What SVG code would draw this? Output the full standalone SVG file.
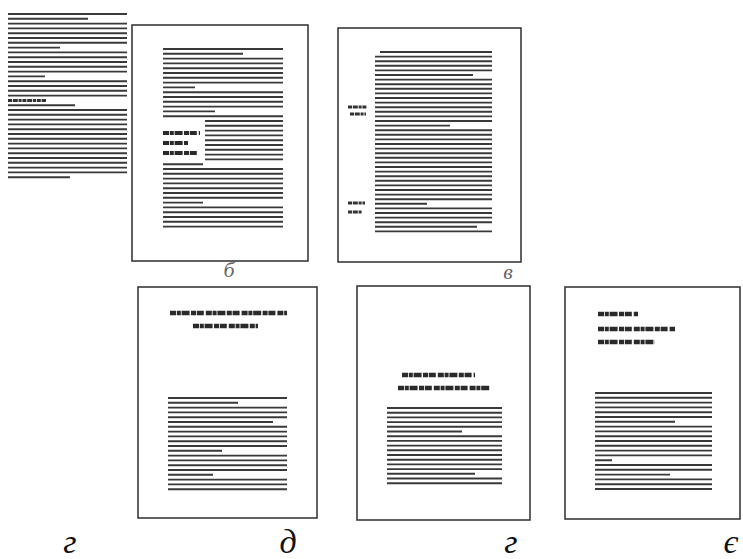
<svg xmlns="http://www.w3.org/2000/svg" width="743" height="559" viewBox="0 0 743 559">
<style>
.frame{fill:#fff;stroke:#3a3a3a;stroke-width:1.6}
.txt{fill:none;stroke:#1e1e1e;stroke-width:1.9;stroke-opacity:0.88}
.head{fill:none;stroke:#2a2a2a;stroke-width:4.5;stroke-dasharray:6 0.8 4 0.8 8 1.4 5 0.8 7 2}
.note{fill:none;stroke:#333;stroke-width:3;stroke-dasharray:4 0.8 5 0.8 3 0.8}
.lab{font-family:"Liberation Serif",serif;font-style:italic;text-anchor:middle}
</style>
<rect width="743" height="559" fill="#fff"/>

<g id="page-a">
<path class="txt" d="M8 14H127M8 18.8H88M8 23.6H127M8 28.4H127M8 33.2H127M8 38H127M8 42.8H127M8 47.6H60M8 52.4H127M8 57.2H127M8 62H127M8 66.8H127M8 71.6H127M8 76.4H45M8 81.2H127M8 86H127M8 90.8H127M8 95.6H127M8 105.2H75M8 110H127M8 114.8H127M8 119.6H127M8 124.4H127M8 129.2H127M8 134H127M8 138.8H127M8 143.6H127M8 148.4H127M8 153.2H127M8 158H127M8 162.8H127M8 167.6H127M8 172.4H127M8 177.2H70"/>
<path class="note" d="M8 100.4H46"/>
</g>

<g id="page-b">
<rect class="frame" x="132" y="25" width="176" height="236"/>
<path class="txt" d="M163 49H283M163 53.8H243M163 58.6H283M163 63.4H283M163 68.2H283M163 73H283M163 77.8H283M163 82.6H283M163 87.4H195M163 92.2H283M163 97H283M163 101.8H283M163 106.6H283M163 111.4H215M163 116.2H283M205 121H283M205 125.8H283M205 130.6H283M205 135.4H283M205 140.2H283M205 145H283M205 149.8H283M205 154.6H283M205 159.4H283M163 164.2H203M163 169H283M163 173.8H283M163 178.6H283M163 183.4H283M163 188.2H283M163 193H283M163 197.8H283M163 202.6H203M163 207.4H283M163 212.2H283M163 217H283M163 221.8H283M163 226.6H283"/>
<path class="head" style="stroke-width:4" d="M163 133H200M163 143H188M163 153H198"/>
<text class="lab" x="229" y="277" font-size="22" fill="#666">б</text>
</g>

<g id="page-c">
<rect class="frame" x="338" y="28" width="183" height="234"/>
<path class="txt" d="M380 52H492M375 56.6H492M375 61.2H492M375 65.8H492M375 70.4H492M375 75H473M375 79.6H492M375 84.2H492M375 88.8H492M375 93.4H492M375 98H492M375 102.6H492M375 107.2H492M375 111.8H492M375 116.4H492M375 121H492M375 125.6H450M375 130.2H492M375 134.8H492M375 139.4H492M375 144H492M375 148.6H492M375 153.2H492M375 157.8H492M375 162.4H492M375 167H492M375 171.6H492M375 176.2H492M375 180.8H492M375 185.4H492M375 190H492M375 194.6H492M375 199.2H492M375 203.8H427M375 208.4H492M375 213H492M375 217.6H492M375 222.2H492M375 226.8H477M375 231.4H492"/>
<path class="note" d="M348 107H367M350 114H366M348 203H365M348 212H362"/>
<text class="lab" x="508" y="279" font-size="22" fill="#666">в</text>
</g>

<g id="page-d">
<rect class="frame" x="138" y="287" width="179" height="231"/>
<path class="head" d="M170 313H287M193 326H258"/>
<path class="txt" d="M168 398H287M168 402.8H238M168 407.6H287M168 412.4H287M168 417.2H287M168 422H273M168 426.8H287M168 431.6H287M168 436.4H287M168 441.2H287M168 446H287M168 450.8H222M168 455.6H287M168 460.4H287M168 465.2H287M168 470H287M168 474.8H213M168 479.6H287M168 484.4H287M168 489.2H287"/>
</g>

<g id="page-e">
<rect class="frame" x="357" y="286" width="173" height="234"/>
<path class="head" d="M402 375H475M398 388H490"/>
<path class="txt" d="M387 408H502M387 412.7H502M387 417.4H502M387 422.1H502M387 426.8H502M387 431.5H462M387 436.2H502M387 440.9H502M387 445.6H502M387 450.3H502M387 455H502M387 459.7H502M387 464.4H502M387 469.1H502M387 473.8H475M387 478.5H502M387 483.2H502"/>
</g>

<g id="page-f">
<rect class="frame" x="565" y="287" width="175" height="232"/>
<path class="head" d="M598 314H638M598 329H675M598 342H655"/>
<path class="txt" d="M595 393H712M595 397.8H712M595 402.6H712M595 407.4H712M595 412.2H712M595 417H712M595 421.8H675M595 426.6H712M595 431.4H712M595 436.2H712M595 441H712M595 445.8H712M595 450.6H712M595 455.4H712M595 460.2H612M595 465H712M595 469.8H712M595 474.6H670M595 479.4H712M595 484.2H712M595 489H712"/>
</g>

<g id="labels">
<text class="lab" x="70" y="553" font-size="34" fill="#111">г</text>
<text class="lab" x="288" y="553" font-size="34" fill="#111">д</text>
<text class="lab" x="511" y="553" font-size="34" fill="#111">г</text>
<text class="lab" x="731" y="553" font-size="34" fill="#111">є</text>
</g>
</svg>
